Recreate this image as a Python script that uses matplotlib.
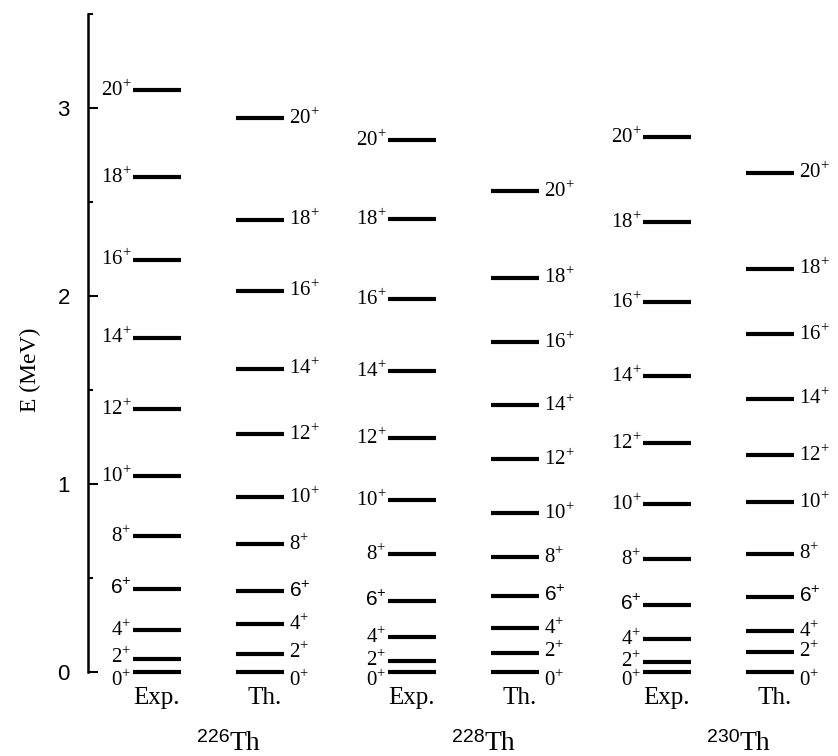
import matplotlib
matplotlib.use('Agg')
import matplotlib.pyplot as plt
import numpy as np

plt.rcParams['font.family'] = 'Liberation Serif'
plt.rcParams['mathtext.fontset'] = 'custom'
plt.rcParams['mathtext.rm'] = 'Liberation Serif'
plt.rcParams['mathtext.sf'] = 'Liberation Sans'

# level energies (MeV) for spins 0+ ... 20+
spins = [0, 2, 4, 6, 8, 10, 12, 14, 16, 18, 20]
exp226 = [0, 0.069, 0.223, 0.441, 0.722, 1.041, 1.397, 1.779, 2.193, 2.634, 3.096]
th226 = [0, 0.096, 0.255, 0.430, 0.680, 0.929, 1.264, 1.614, 2.029, 2.406, 2.947]
exp228 = [0, 0.056, 0.185, 0.380, 0.626, 0.916, 1.246, 1.600, 1.985, 2.407, 2.831]
th228 = [0, 0.102, 0.232, 0.405, 0.610, 0.847, 1.131, 1.419, 1.754, 2.098, 2.559]
exp230 = [0, 0.052, 0.173, 0.356, 0.599, 0.891, 1.216, 1.573, 1.969, 2.393, 2.845]
th230 = [0, 0.104, 0.218, 0.400, 0.630, 0.903, 1.155, 1.454, 1.796, 2.145, 2.656]
nuclei = ['226', '228', '230']

fig = plt.figure(figsize=(8.38, 7.56), dpi=100)
ax = fig.add_axes([88/838, 1-672/756, 750/838, 658/756])

half = 0.094     # half width of a level line
dth = 0.404      # offset of the Th. column from the Exp. column

def label_text(j):
    if j == 6:
        return r'$\mathsf{6}^{\mathsf{+}}$'
    return str(j) + r'$^{\mathrm{+}}$'

def nudge(j):
    if j == 0:
        return -6
    if j == 2:
        return 1
    return 0

xtr = ax.get_xaxis_transform()
for g, (ex, th) in enumerate([(exp226, th226), (exp228, th228), (exp230, th230)]):
    xe = g
    xt = g + dth
    ax.hlines(ex, xe - half, xe + half, color='black', lw=3, clip_on=False)
    ax.hlines(th, xt - half, xt + half, color='black', lw=3, clip_on=False)
    for j, e, t in zip(spins, ex, th):
        ax.annotate(label_text(j), (xe - half, e), xytext=(-1, nudge(j)), textcoords='offset points',
                    ha='right', va='center', fontsize=15, annotation_clip=False)
        ax.annotate(label_text(j), (xt + half, t), xytext=(4, nudge(j)), textcoords='offset points',
                    ha='left', va='center', fontsize=15, annotation_clip=False)
    ax.text(xe, -0.04, 'Exp.', transform=xtr, ha='center', va='center', fontsize=18)
    ax.text(xt + 0.02, -0.04, 'Th.', transform=xtr, ha='center', va='center', fontsize=18)
    xs = g + dth/2 + 0.084
    ax.text(xs, -0.107, nuclei[g], transform=xtr, ha='right', va='baseline',
            fontsize=14, fontfamily='Liberation Sans')
    ax.text(xs, -0.1185, 'Th', transform=xtr, ha='left', va='baseline', fontsize=20)

ax.set_xlim(-0.27, -0.27 + 750/255)
ax.set_ylim(0, 3.5)
ax.set_yticks([0, 1, 2, 3])
ax.set_yticks([0.5, 1.5, 2.5, 3.5], minor=True)
ax.set_yticklabels(['0', '1', '2', '3'], fontfamily='Liberation Sans', fontsize=16)
ax.tick_params(axis='y', which='major', direction='in', length=7, width=1.5, pad=13)
ax.tick_params(axis='y', which='minor', direction='in', length=3.5, width=1.5)
ax.set_xticks([])
for s in ['top', 'right', 'bottom']:
    ax.spines[s].set_visible(False)
ax.spines['left'].set_linewidth(1.8)
ax.patch.set_alpha(0)

fig.text(30/838, 1-370/756, 'E (MeV)', rotation=90, ha='center', va='center', fontsize=17)

plt.savefig('out.png', dpi=100)
